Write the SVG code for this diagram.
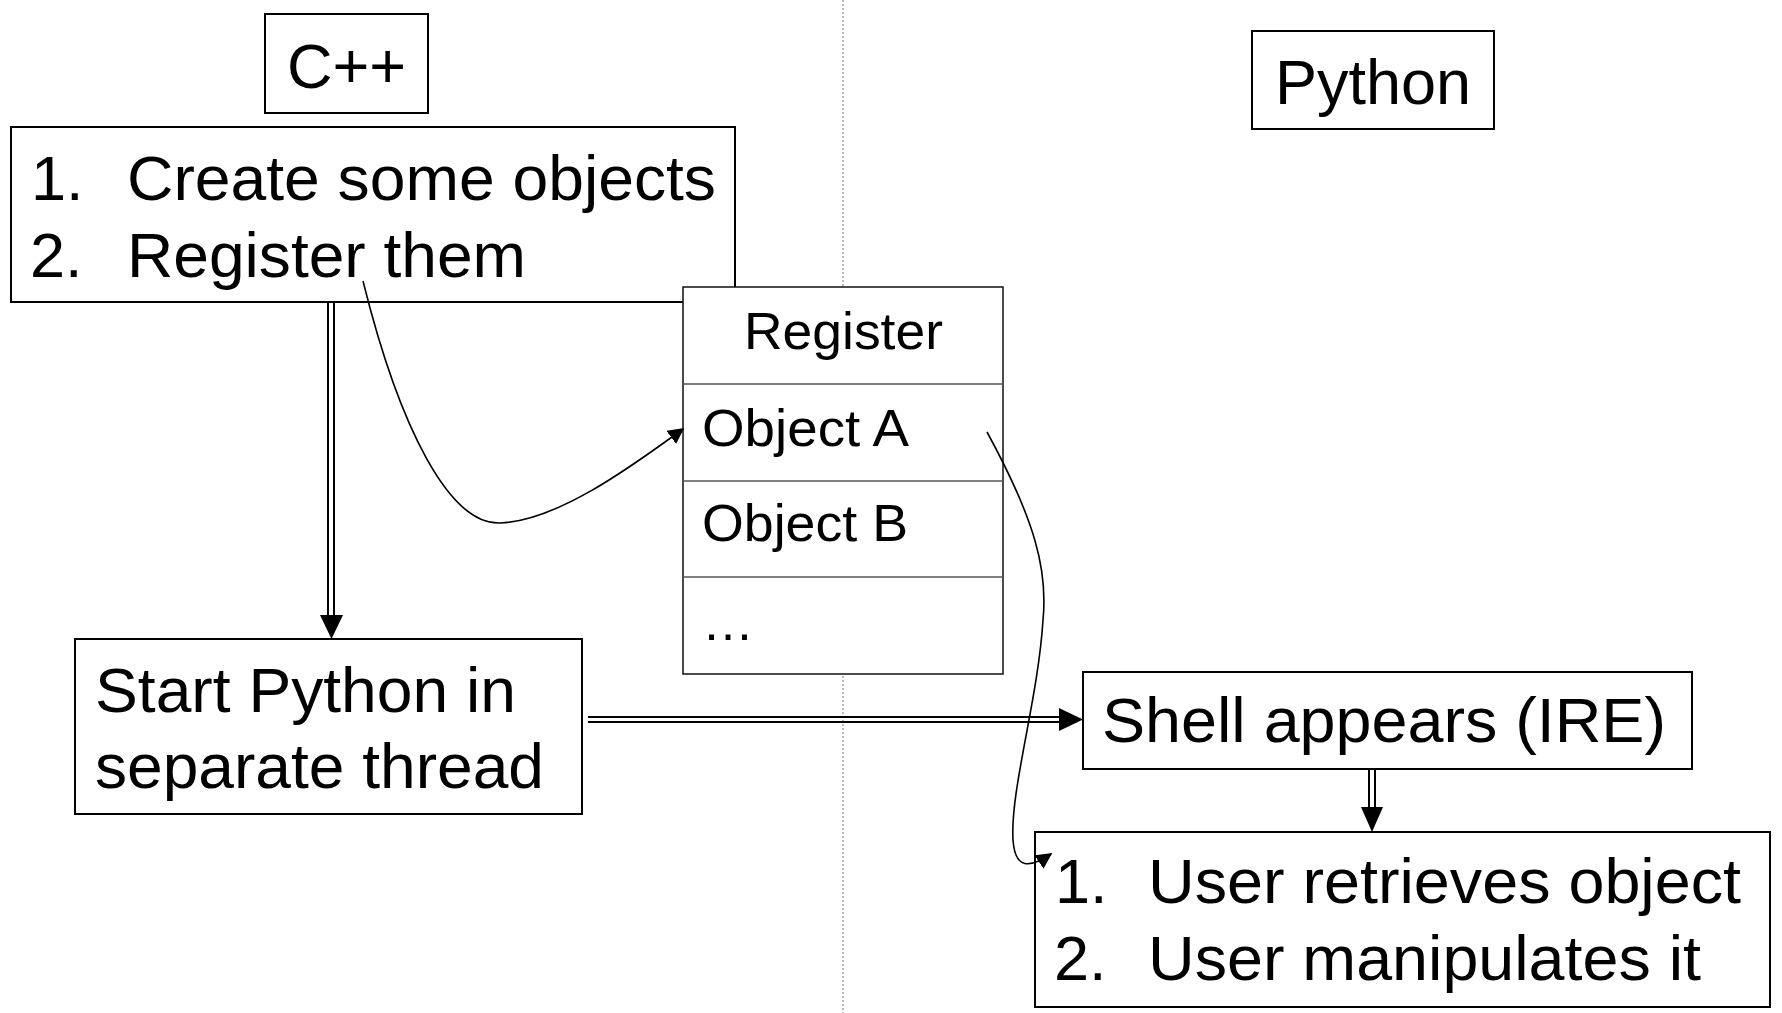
<svg xmlns="http://www.w3.org/2000/svg" width="1782" height="1013" viewBox="0 0 1782 1013">
  <style>
    text { font-family: "Liberation Sans", Arial, sans-serif; fill: #000; }
    .big { font-size: 63px; }
    .small { font-size: 52px; }
    .box { fill: #fff; stroke: #000; stroke-width: 2; }
    .reg { fill: #fff; stroke: #111; stroke-width: 1.5; }
    .row { stroke: #555; stroke-width: 1.5; }
    .thin { fill: none; stroke: #000; stroke-width: 1.6; }
    .dbl { stroke: #000; stroke-width: 2; }
    .divider { stroke: #777; stroke-width: 1; stroke-dasharray: 2 2; }
  </style>
  <defs>
    <marker id="head" viewBox="0 0 10 10" refX="9" refY="5" markerWidth="16" markerHeight="16" markerUnits="userSpaceOnUse" orient="auto">
      <path d="M0,0 L10,5 L0,10 z" fill="#000"/>
    </marker>
  </defs>
  <rect width="1782" height="1013" fill="#fff"/>

  <!-- dotted line separating the two languages -->
  <line class="divider" x1="843" y1="0" x2="843" y2="1013"/>

  <g id="cpp-title">
    <rect class="box" x="265" y="14" width="163" height="99"/>
    <text class="big" x="346.5" y="88" text-anchor="middle">C++</text>
  </g>

  <g id="python-title">
    <rect class="box" x="1252" y="31" width="242" height="98"/>
    <text class="big" x="1373" y="104" text-anchor="middle">Python</text>
  </g>

  <g id="create-register">
    <rect class="box" x="11" y="127" width="724" height="175"/>
    <text class="big" x="31" y="200">1.</text>
    <text class="big" x="127" y="200" textLength="589" lengthAdjust="spacingAndGlyphs">Create some objects</text>
    <text class="big" x="30" y="277">2.</text>
    <text class="big" x="127" y="277" textLength="399" lengthAdjust="spacingAndGlyphs">Register them</text>
  </g>

  <g id="register">
    <rect class="reg" x="683" y="287" width="320" height="387"/>
    <line class="row" x1="683" y1="384" x2="1003" y2="384"/>
    <line class="row" x1="683" y1="481" x2="1003" y2="481"/>
    <line class="row" x1="683" y1="577" x2="1003" y2="577"/>
    <text class="small" x="843.5" y="349" text-anchor="middle" textLength="199" lengthAdjust="spacingAndGlyphs">Register</text>
    <text class="small" x="702" y="446" textLength="207" lengthAdjust="spacingAndGlyphs">Object A</text>
    <text class="small" x="702" y="541" textLength="206" lengthAdjust="spacingAndGlyphs">Object B</text>
    <text class="small" x="702" y="640">…</text>
  </g>

  <g id="start-python">
    <rect class="box" x="75" y="639" width="507" height="175"/>
    <text class="big" x="95" y="712" textLength="421" lengthAdjust="spacingAndGlyphs">Start Python in</text>
    <text class="big" x="95" y="788" textLength="449" lengthAdjust="spacingAndGlyphs">separate thread</text>
  </g>

  <g id="shell">
    <rect class="box" x="1083" y="672" width="609" height="97"/>
    <text class="big" x="1102" y="742" textLength="564" lengthAdjust="spacingAndGlyphs">Shell appears (IRE)</text>
  </g>

  <g id="user">
    <rect class="box" x="1035" y="832" width="735" height="175"/>
    <text class="big" x="1055" y="903">1.</text>
    <text class="big" x="1148" y="903" textLength="593" lengthAdjust="spacingAndGlyphs">User retrieves object</text>
    <text class="big" x="1054" y="980">2.</text>
    <text class="big" x="1148" y="980" textLength="553" lengthAdjust="spacingAndGlyphs">User manipulates it</text>
  </g>

  <g id="connectors">
    <!-- flow: create/register -> start python -->
    <line class="dbl" x1="328" y1="302" x2="328" y2="617"/>
    <line class="dbl" x1="334" y1="302" x2="334" y2="617"/>
    <path d="M320,615 L343,615 L331.5,639 z" fill="#000"/>

    <!-- flow: start python -> shell -->
    <line class="dbl" x1="588" y1="717" x2="1061" y2="717"/>
    <line class="dbl" x1="588" y1="722" x2="1061" y2="722"/>
    <path d="M1059,708 L1083,719.5 L1059,731 z" fill="#000"/>

    <!-- flow: shell -> user -->
    <line class="dbl" x1="1369" y1="769" x2="1369" y2="809"/>
    <line class="dbl" x1="1375" y1="769" x2="1375" y2="809"/>
    <path d="M1361,807 L1383,807 L1372,832 z" fill="#000"/>

    <!-- registering an object -->
    <path class="thin" marker-end="url(#head)" d="M363,281 C400,430 450,525 500,523 C560,521 640,460 683,429"/>

    <!-- retrieving the object from python -->
    <path class="thin" marker-end="url(#head)" d="M987,432 C1035,520 1048,570 1043,620 C1038,700 1010,790 1013,840 C1015,870 1030,868 1051,854"/>
  </g>
</svg>
